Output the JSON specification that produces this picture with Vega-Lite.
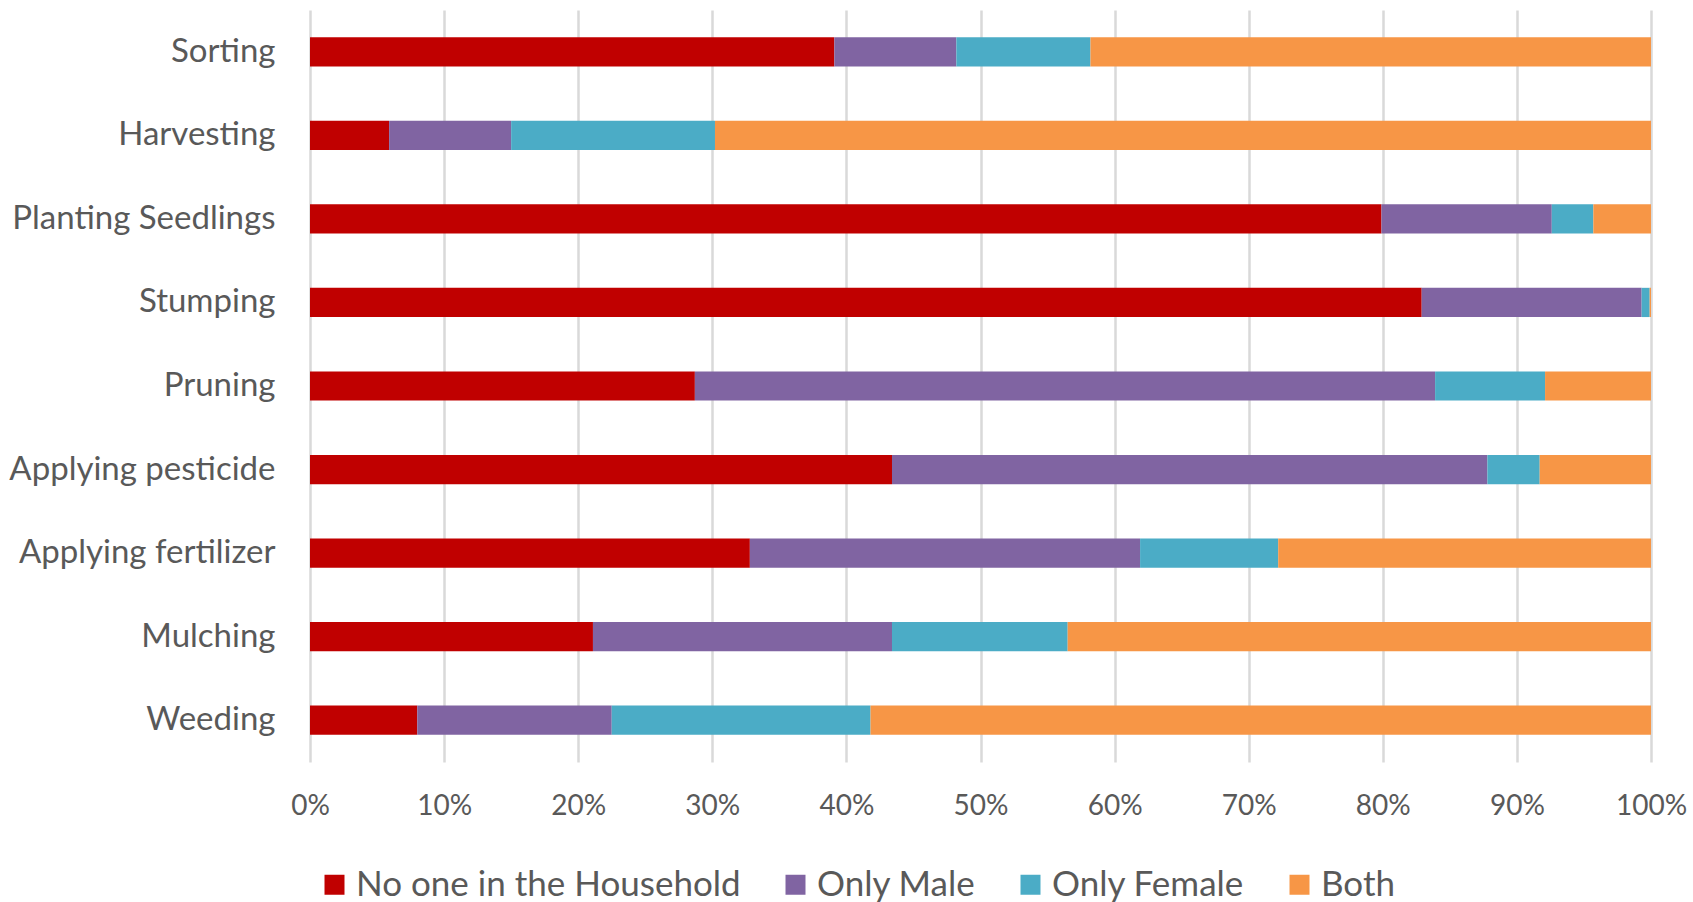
{
  "$schema": "https://vega.github.io/schema/vega-lite/v6.json",
  "width": 1341,
  "height": 752,
  "autosize": {"type": "none"},
  "padding": {"left": 310, "top": 10, "right": 42, "bottom": 140},
  "background": "white",
  "config": {
    "view": {"stroke": null},
    "font": "Lato",
    "axis": {"labelFont": "Lato", "labelColor": "#595959"},
    "legend": {"labelFont": "Lato", "labelColor": "#595959"}
  },
  "data": {
    "values": [
      {"task": "Sorting", "group": "No one in the Household", "o": 1, "value": 39.1},
      {"task": "Sorting", "group": "Only Male", "o": 2, "value": 9.1},
      {"task": "Sorting", "group": "Only Female", "o": 3, "value": 10.0},
      {"task": "Sorting", "group": "Both", "o": 4, "value": 41.8},
      {"task": "Harvesting", "group": "No one in the Household", "o": 1, "value": 5.9},
      {"task": "Harvesting", "group": "Only Male", "o": 2, "value": 9.1},
      {"task": "Harvesting", "group": "Only Female", "o": 3, "value": 15.2},
      {"task": "Harvesting", "group": "Both", "o": 4, "value": 69.8},
      {"task": "Planting Seedlings", "group": "No one in the Household", "o": 1, "value": 79.9},
      {"task": "Planting Seedlings", "group": "Only Male", "o": 2, "value": 12.7},
      {"task": "Planting Seedlings", "group": "Only Female", "o": 3, "value": 3.1},
      {"task": "Planting Seedlings", "group": "Both", "o": 4, "value": 4.3},
      {"task": "Stumping", "group": "No one in the Household", "o": 1, "value": 82.9},
      {"task": "Stumping", "group": "Only Male", "o": 2, "value": 16.4},
      {"task": "Stumping", "group": "Only Female", "o": 3, "value": 0.6},
      {"task": "Stumping", "group": "Both", "o": 4, "value": 0.1},
      {"task": "Pruning", "group": "No one in the Household", "o": 1, "value": 28.7},
      {"task": "Pruning", "group": "Only Male", "o": 2, "value": 55.2},
      {"task": "Pruning", "group": "Only Female", "o": 3, "value": 8.2},
      {"task": "Pruning", "group": "Both", "o": 4, "value": 7.9},
      {"task": "Applying pesticide", "group": "No one in the Household", "o": 1, "value": 43.4},
      {"task": "Applying pesticide", "group": "Only Male", "o": 2, "value": 44.4},
      {"task": "Applying pesticide", "group": "Only Female", "o": 3, "value": 3.9},
      {"task": "Applying pesticide", "group": "Both", "o": 4, "value": 8.3},
      {"task": "Applying fertilizer", "group": "No one in the Household", "o": 1, "value": 32.8},
      {"task": "Applying fertilizer", "group": "Only Male", "o": 2, "value": 29.1},
      {"task": "Applying fertilizer", "group": "Only Female", "o": 3, "value": 10.3},
      {"task": "Applying fertilizer", "group": "Both", "o": 4, "value": 27.8},
      {"task": "Mulching", "group": "No one in the Household", "o": 1, "value": 21.1},
      {"task": "Mulching", "group": "Only Male", "o": 2, "value": 22.3},
      {"task": "Mulching", "group": "Only Female", "o": 3, "value": 13.1},
      {"task": "Mulching", "group": "Both", "o": 4, "value": 43.5},
      {"task": "Weeding", "group": "No one in the Household", "o": 1, "value": 8.0},
      {"task": "Weeding", "group": "Only Male", "o": 2, "value": 14.5},
      {"task": "Weeding", "group": "Only Female", "o": 3, "value": 19.3},
      {"task": "Weeding", "group": "Both", "o": 4, "value": 58.2}
    ]
  },
  "mark": {"type": "bar"},
  "encoding": {
    "y": {
      "field": "task",
      "type": "nominal",
      "sort": ["Sorting", "Harvesting", "Planting Seedlings", "Stumping", "Pruning", "Applying pesticide", "Applying fertilizer", "Mulching", "Weeding"],
      "scale": {"paddingInner": 0.65, "paddingOuter": 0.325},
      "axis": {"title": null, "ticks": false, "domain": false, "grid": false, "labelFontSize": 33, "labelPadding": 35, "labelLimit": 400}
    },
    "x": {
      "field": "value",
      "type": "quantitative",
      "stack": "normalize",
      "scale": {"domain": [0, 1], "nice": false},
      "axis": {
        "title": null,
        "values": [0, 0.1, 0.2, 0.3, 0.4, 0.5, 0.6, 0.7, 0.8, 0.9, 1],
        "format": ".0%",
        "ticks": false,
        "domain": false,
        "grid": true,
        "gridColor": "#D9D9D9",
        "gridWidth": 2.5,
        "labelFontSize": 28,
        "labelPadding": 30,
        "labelFlush": false
      }
    },
    "color": {
      "field": "group",
      "type": "nominal",
      "scale": {
        "domain": ["No one in the Household", "Only Male", "Only Female", "Both"],
        "range": ["#C00000", "#8064A2", "#4BACC6", "#F79646"]
      },
      "legend": {
        "title": null,
        "orient": "none",
        "direction": "horizontal",
        "legendX": 7,
        "legendY": 857,
        "symbolType": "square",
        "symbolSize": 400,
        "symbolStrokeWidth": 0,
        "labelFontSize": 35,
        "labelOffset": 4,
        "columnPadding": 37,
        "labelLimit": 500
      }
    },
    "order": {"field": "o", "type": "quantitative"}
  }
}
